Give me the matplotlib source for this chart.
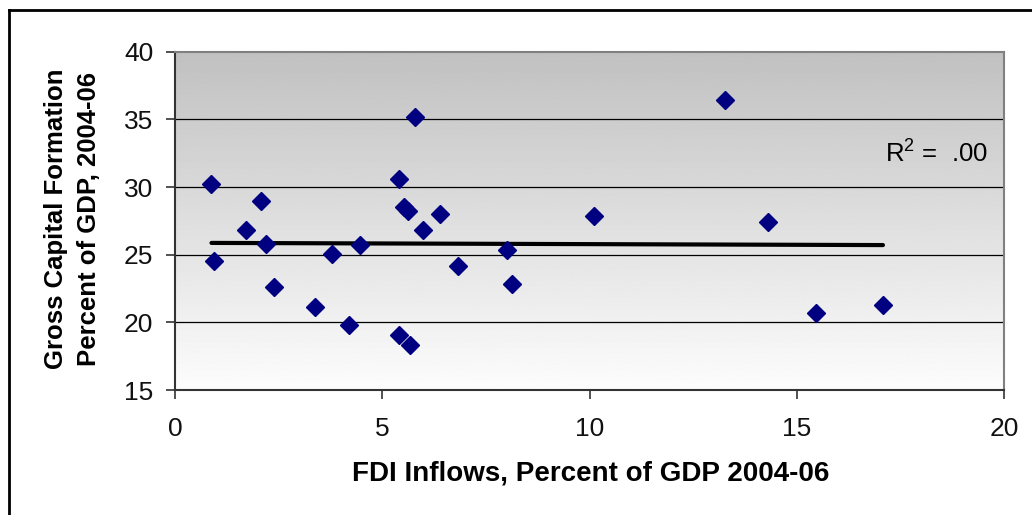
import numpy as np
import matplotlib.pyplot as plt
from matplotlib.lines import Line2D

plt.rcParams['font.family'] = ['Liberation Sans', 'DejaVu Sans']
plt.rcParams['mathtext.fontset'] = 'custom'
plt.rcParams['mathtext.rm'] = 'Liberation Sans'

# FDI inflows vs gross capital formation, % of GDP, 2004-06
fdi = [0.88, 0.93, 1.71, 2.07, 2.19, 2.40, 3.38, 3.79, 4.20, 4.47,
       5.41, 5.41, 5.52, 5.62, 5.68, 5.78, 5.99, 6.40, 6.82, 8.02,
       8.12, 10.10, 13.28, 14.31, 15.47, 17.08]
gcf = [30.2, 24.5, 26.8, 29.0, 25.8, 22.6, 21.1, 25.05, 19.8, 25.7,
       30.6, 19.1, 28.5, 28.25, 18.3, 35.15, 26.8, 28.0, 24.2, 25.35,
       22.8, 27.85, 36.45, 27.4, 20.66, 21.25]
xticks = [0, 5, 10, 15, 20]
yticks = [15, 20, 25, 30, 35, 40]

fig = plt.figure(figsize=(10.32, 5.15), dpi=100)
ax = fig.add_axes([175 / 1032, 1 - 390 / 515, 829 / 1032, 338.3 / 515])

# grey-to-white vertical gradient behind the plot
ax.imshow(np.linspace(0.755, 0.99, 256).reshape(-1, 1), cmap='gray', vmin=0, vmax=1,
          extent=[0, 20, 15, 40], aspect='auto', origin='upper', zorder=0)

for y in yticks[1:-1]:
    ax.axhline(y, color='black', lw=0.9, zorder=1)

ax.plot(fdi, gcf, 'D', color='#000080', ms=9, mec='#000080', zorder=3)

# linear trend over the data range
k, b = np.polyfit(fdi, gcf, 1)
xs = np.array([min(fdi), max(fdi)])
ax.plot(xs, k * xs + b, color='black', lw=3, solid_capstyle='round', zorder=2)

r2 = np.corrcoef(fdi, gcf)[0, 1] ** 2
ax.text(19.62, 32.55, 'R$^2$ =  ' + f'{r2:.2f}'[1:], ha='right', va='center', fontsize=18.5)

ax.set_xlim(0, 20)
ax.set_ylim(15, 40)
ax.set_xticks(xticks)
ax.set_yticks(yticks)
ax.tick_params(axis='both', direction='out', length=6.5, width=1.2, labelsize=19,
               colors='#333333', labelcolor='#111111')
ax.tick_params(axis='x', pad=13)
ax.tick_params(axis='y', pad=9)
for s in ['left', 'bottom']:
    ax.spines[s].set_color('#333333')
    ax.spines[s].set_linewidth(1.5)
for s in ['top', 'right']:
    ax.spines[s].set_color('#808080')
    ax.spines[s].set_linewidth(1.5)

ax.set_xlabel('FDI Inflows, Percent of GDP 2004-06', fontsize=20, fontweight='bold')
ax.xaxis.label.set_va('center')
ax.xaxis.set_label_coords(0.502, -0.248)
ax.set_ylabel('Gross Capital Formation\nPercent of GDP, 2004-06', fontsize=18.5,
              fontweight='bold', linespacing=1.45)
ax.yaxis.label.set_va('center')
ax.yaxis.set_label_coords(-0.1236, 0.505)

# outer frame: only top and left edges show
fig.add_artist(Line2D([8.5 / 1032, 8.5 / 1032], [0, 1 - 10 / 515], color='black', lw=2))
fig.add_artist(Line2D([8.5 / 1032, 1], [1 - 10 / 515, 1 - 10 / 515], color='black', lw=2))

fig.savefig('out.png', dpi=100)
